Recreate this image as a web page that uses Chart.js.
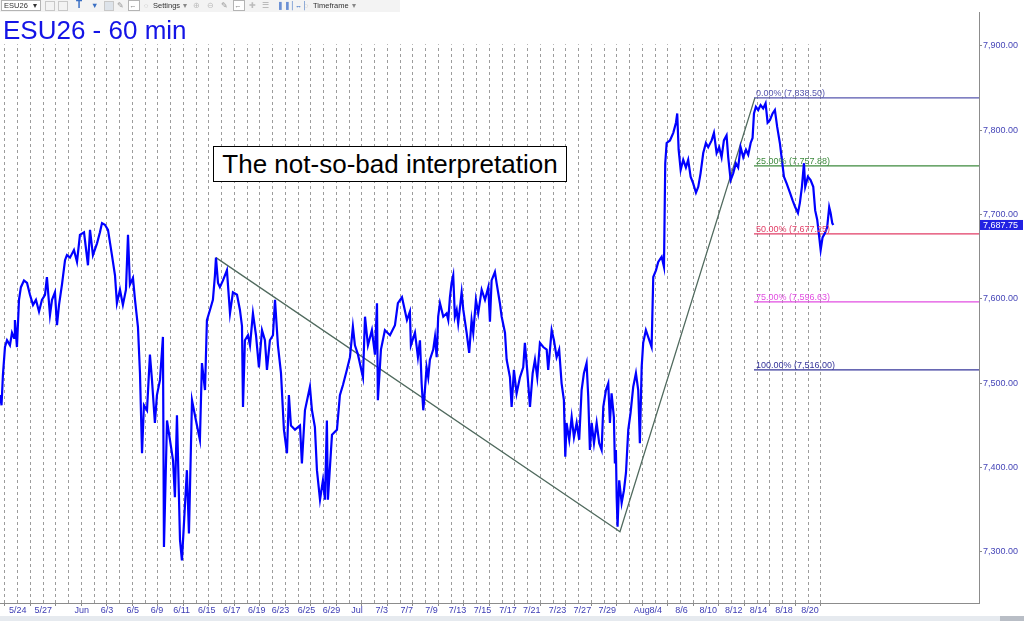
<!DOCTYPE html>
<html>
<head>
<meta charset="utf-8">
<title>ESU26 - 60 min</title>
<script src="https://cdn.jsdelivr.net/npm/chart.js@4.4.1/dist/chart.umd.min.js"></script>
<style>
  html, body { margin: 0; padding: 0; background: #fff; }
  #wrap { position: relative; width: 1024px; height: 621px; overflow: hidden; font-family: 'Liberation Sans', Arial, sans-serif; }
  #chart { position: absolute; left: 0; top: 0; }
  #toolbar { position: absolute; left: 0; top: 0; width: 400px; height: 12px; background: #f3f3f3; font-size: 7.5px; color: #333; }
  #toolbar span { position: absolute; top: 1px; line-height: 10px; white-space: nowrap; }
  #toolbar .box { border: 1px solid #b4b4b4; background: #fff; height: 9px; top: 0px; }
  #toolbar .ico { width: 8px; height: 8px; border: 1px solid #c8c8c8; top: 1px; }
  #title { position: absolute; left: 3px; top: 17px; font-size: 26px; line-height: 26px; color: #1414e6; white-space: nowrap; }
  #note { position: absolute; left: 213px; top: 146px; width: 352px; height: 34px; border: 1px solid #000; background: #fff;
          font-size: 26px; line-height: 34px; color: #000; text-align: center; white-space: nowrap; }
  #scroll { position: absolute; left: 0; top: 616px; width: 1024px; height: 5px; background: #e6eaef; }
  #scroll .thumb { position: absolute; right: 0; top: 0; width: 24px; height: 5px; background: #b9bec6; }
</style>
</head>
<body>
<div id="wrap">
  <canvas id="chart" width="1024" height="621"></canvas>
  <div id="toolbar">
    <span class="box" style="left:1px;width:38px;">&nbsp;ESU26<span style="left:31px;top:0;">&#9662;</span></span>
    <span class="ico" style="left:45px;"></span>
    <span class="ico" style="left:58px;"></span>
    <span style="left:76px;font-size:10px;font-weight:bold;color:#3a6fc4;top:0;">T</span>
    <span style="left:91px;color:#3a6fc4;">&#9660;</span>
    <span class="ico" style="left:104px;background:#dde3ea;"></span>
    <span style="left:117px;color:#999;">&#9998;</span>
    <span class="box" style="left:128px;width:10px;color:#888;">&larr;</span>
    <span style="left:144px;color:#aaa;">&#9676;</span>
    <span style="left:153px;">Settings</span>
    <span style="left:183px;color:#888;">&#9662;</span>
    <span style="left:193px;color:#bbb;">&#8853;</span>
    <span style="left:207px;color:#bbb;">&#8854;</span>
    <span style="left:221px;color:#999;">&#9998;</span>
    <span class="box" style="left:233px;width:10px;color:#888;">&larr;</span>
    <span style="left:249px;color:#bbb;">&#10010;</span>
    <span style="left:262px;color:#aaa;">&#9776;</span>
    <span style="left:277px;color:#6a8fd4;">&#10074;&#10074;</span>
    <span style="left:290px;color:#3a6fc4;">&#9474;&#8596;&#9474;</span>
    <span style="left:304px;color:#aaa;">&#9676;</span>
    <span style="left:313px;">Timeframe</span>
    <span style="left:352px;color:#888;">&#9662;</span>
  </div>
  <div id="title">ESU26 - 60 min</div>
  <div id="note">The not-so-bad interpretation</div>
  <div id="scroll"><div class="thumb"></div></div>
</div>
<script>
// hourly closes, x = session index (one dashed line per session)
const barTime = [
  -0.39, -0.27, -0.16, 0, 0.16, 0.39, 0.55, 0.71, 0.78, 0.94,
  1.10, 1.25, 1.49, 1.73, 1.96, 2.20, 2.43, 2.67, 2.90, 3.14,
  3.29, 3.53, 3.69, 3.92, 4.08, 4.24, 4.47, 4.71, 4.86, 5.10,
  5.41, 5.65, 5.88, 6.20, 6.51, 6.67, 6.90, 7.22, 7.45, 7.61,
  7.84, 8.08, 8.39, 8.63, 8.78, 9.02, 9.25, 9.49, 9.65, 9.80,
  10.04, 10.20, 10.43, 10.59, 10.75, 10.90, 11.14, 11.37, 11.53, 11.76,
  11.92, 12.16, 12.39, 12.47, 12.71, 12.94, 13.18, 13.33, 13.49, 13.73,
  13.88, 14.12, 14.27, 14.43, 14.67, 14.98, 15.29, 15.45, 15.69, 15.84,
  16.08, 16.31, 16.47, 16.55, 16.71, 16.86, 17.10, 17.41, 17.65, 17.88,
  18.20, 18.43, 18.59, 18.67, 18.82, 19.06, 19.22, 19.45, 19.69, 19.92,
  20.16, 20.39, 20.55, 20.78, 21.02, 21.18, 21.41, 21.65, 21.88, 22.12,
  22.27, 22.43, 22.75, 23.14, 23.29, 23.53, 23.92, 24.08, 24.31, 24.47,
  24.71, 24.94, 25.10, 25.25, 25.33, 25.65, 26.04, 26.27, 26.51, 26.82,
  27.06, 27.29, 27.45, 27.69, 28.08, 28.24, 28.47, 28.78, 29.02, 29.18,
  29.25, 29.49, 29.80, 30.20, 30.59, 30.82, 31.14, 31.53, 31.76, 31.84,
  32.16, 32.39, 32.55, 32.68, 32.81, 32.94, 33.07, 33.20, 33.33, 33.59,
  33.73, 33.86, 33.98, 34.12, 34.38, 34.64, 34.77, 34.90, 35.03, 35.16,
  35.29, 35.43, 35.55, 35.82, 35.95, 36.21, 36.41, 36.60, 36.73, 36.94,
  37.12, 37.39, 37.65, 37.91, 38.04, 38.17, 38.43, 38.56, 38.82, 38.96,
  39.22, 39.35, 39.61, 39.74, 39.92, 40.13, 40.39, 40.65, 40.78, 40.96,
  41.18, 41.39, 41.57, 41.75, 41.96, 42.22, 42.49, 42.61, 42.88, 43.06,
  43.27, 43.47, 43.66, 43.84, 43.95, 44.05, 44.26, 44.45, 44.63, 44.84,
  45.04, 45.23, 45.41, 45.62, 45.75, 45.88, 46.02, 46.20, 46.41, 46.61,
  46.80, 46.93, 47.14, 47.32, 47.45, 47.58, 47.76, 47.84, 47.92, 47.98,
  48.05, 48.18, 48.37, 48.55, 48.71, 48.89, 49.07, 49.28, 49.49, 49.67,
  49.80, 49.94, 50.06, 50.27, 50.45, 50.72, 50.85, 51.06, 51.24, 51.51,
  51.69, 51.79, 51.90, 52.16, 52.42, 52.63, 52.73, 52.84, 53.00, 53.20,
  53.41, 53.59, 53.78, 53.98, 54.20, 54.38, 54.56, 54.77, 54.98, 55.16,
  55.43, 55.61, 55.82, 56.02, 56.21, 56.39, 56.60, 56.73, 56.92, 57.12,
  57.33, 57.51, 57.70, 57.91, 58.12, 58.30, 58.49, 58.64, 58.75, 58.90,
  59.08, 59.27, 59.47, 59.66, 59.82, 60.00, 60.21, 60.39, 60.57, 60.78,
  60.94, 61.10, 61.31, 61.57, 61.78, 61.98, 62.20, 62.35, 62.51, 62.67,
  62.77, 62.98, 63.19, 63.40, 63.55, 63.71, 63.87, 63.98, 64.13, 64.31,
  64.49, 64.65, 64.76, 64.89, 64.97
];
const barPrice = [
  7486, 7474, 7510, 7543, 7551, 7545, 7560, 7554, 7575, 7543,
  7599, 7614, 7622, 7619, 7605, 7593, 7599, 7585, 7599, 7605,
  7626, 7581, 7599, 7608, 7569, 7593, 7617, 7646, 7652, 7649,
  7658, 7644, 7676, 7679, 7640, 7682, 7652, 7666, 7679, 7690,
  7688, 7682, 7652, 7628, 7595, 7611, 7593, 7611, 7676, 7617,
  7625, 7599, 7567, 7512, 7417, 7474, 7468, 7534, 7504, 7453,
  7486, 7504, 7555, 7306, 7456, 7433, 7409, 7365, 7462, 7314,
  7290, 7356, 7397, 7322, 7480, 7456, 7433, 7524, 7492, 7575,
  7587, 7599, 7628, 7649, 7619, 7614, 7622, 7634, 7583, 7608,
  7605, 7587, 7568, 7472, 7551, 7557, 7545, 7583, 7557, 7519,
  7563, 7551, 7516, 7551, 7557, 7599, 7545, 7512, 7445, 7417,
  7486, 7450, 7445, 7450, 7405, 7468, 7496, 7468, 7448, 7397,
  7362, 7385, 7362, 7456, 7362, 7439, 7445, 7486, 7498, 7516,
  7531, 7567, 7545, 7534, 7507, 7579, 7545, 7563, 7534, 7595,
  7480, 7540, 7563, 7557, 7569, 7595, 7602, 7575, 7585, 7545,
  7560, 7531, 7551, 7500, 7468, 7492, 7519, 7507, 7528, 7540,
  7555, 7531, 7579, 7595, 7579, 7583, 7575, 7602, 7619, 7628,
  7579, 7587, 7571, 7608, 7587, 7560, 7536, 7575, 7560, 7599,
  7583, 7611, 7599, 7614, 7573, 7622, 7632, 7619, 7595, 7579,
  7560, 7528, 7507, 7472, 7516, 7488, 7507, 7519, 7548, 7516,
  7472, 7512, 7528, 7507, 7548, 7543, 7540, 7516, 7563, 7551,
  7531, 7540, 7500, 7480, 7413, 7453, 7433, 7460, 7436, 7453,
  7433, 7492, 7512, 7524, 7484, 7421, 7453, 7429, 7453, 7429,
  7421, 7472, 7492, 7500, 7453, 7488, 7460, 7405, 7421, 7365,
  7330, 7385, 7358, 7373, 7394, 7445, 7465, 7496, 7512, 7492,
  7429, 7519, 7548, 7563, 7555, 7543, 7626, 7634, 7644, 7650,
  7638, 7761, 7785, 7788, 7797, 7809, 7820, 7777, 7753, 7765,
  7756, 7765, 7745, 7737, 7726, 7733, 7749, 7773, 7785, 7780,
  7788, 7797, 7773, 7780, 7768, 7788, 7794, 7768, 7741, 7749,
  7761, 7756, 7780, 7768, 7777, 7771, 7785, 7791, 7820, 7828,
  7824, 7830, 7826, 7832, 7809, 7812, 7820, 7824, 7804, 7785,
  7765, 7745, 7737, 7726, 7717, 7709, 7702, 7714, 7733, 7761,
  7733, 7745, 7741, 7733, 7705, 7694, 7673, 7658, 7673, 7678,
  7685, 7709, 7702, 7690, 7687.75
];

// date labels under the time axis and where they sit (session index)
const dateLabels = ['5/24', '5/27', 'Jun', '6/3', '6/5', '6/9', '6/11', '6/15', '6/17', '6/19', '6/23',
  '6/25', '6/29', 'Jul', '7/3', '7/7', '7/9', '7/13', '7/15', '7/17', '7/21', '7/23', '7/27', '7/29',
  'Aug', '8/4', '8/6', '8/10', '8/12', '8/14', '8/18', '8/20'];
const datePos = [1.00, 3.00, 6.02, 8.00, 10.02, 11.92, 13.86, 15.82, 17.78, 19.74, 21.62,
  23.66, 25.62, 27.61, 29.55, 31.51, 33.46, 35.49, 37.45, 39.45, 41.31, 43.33, 45.29, 47.25,
  49.94, 51.04, 53.07, 55.16, 57.16, 59.11, 61.11, 63.14];
const sessionCount = 65;

const priceTicks = [7300, 7400, 7500, 7600, 7700, 7800, 7900];

// hand-drawn swing line: 6/15 high -> 7/29 low -> 8/14 high
const swingTime = [16.55, 48.24, 58.82];
const swingPrice = [7649, 7324, 7838.5];

// retracement levels, drawn from the 8/14 high to the right edge
const fibPct = [0, 25, 50, 75, 100];
const fibLevel = [7838.50, 7757.88, 7677.25, 7596.63, 7516.00];
const fibColor = ['#5656ae', '#3d8a3d', '#e23d66', '#e24ee2', '#34349a'];
const fibStart = 58.75;

const lastPrice = 7687.75;
const gridTopPrice = 7902;   // session lines start just under the title
const xMin = -0.39, xMax = 76.4;
const yMin = 7239.5, yMax = 7940.3;

const fmt2 = v => v.toLocaleString('en-US', { minimumFractionDigits: 2, maximumFractionDigits: 2 });

const datasets = [
  {
    label: 'ESU26',
    data: barTime.map((t, i) => ({ x: t, y: barPrice[i] })),
    borderColor: '#0000ff',
    borderWidth: 2.2,
    pointRadius: 0,
    tension: 0
  },
  {
    label: 'swing',
    data: swingTime.map((t, i) => ({ x: t, y: swingPrice[i] })),
    borderColor: '#506a5e',
    borderWidth: 1.3,
    pointRadius: 0
  }
];
fibLevel.forEach((lv, i) => {
  datasets.push({
    label: 'fib ' + fibPct[i],
    data: [{ x: fibStart, y: lv }, { x: xMax, y: lv }],
    borderColor: fibColor[i],
    borderWidth: 1.2,
    pointRadius: 0
  });
});

const overlays = {
  id: 'overlays',
  beforeDatasetsDraw(chart) {
    // blank band behind the title, session lines begin below it
    const { ctx, chartArea } = chart;
    const yTop = chart.scales.y.getPixelForValue(gridTopPrice);
    ctx.save();
    ctx.fillStyle = '#ffffff';
    ctx.fillRect(chartArea.left, chartArea.top, chartArea.right - chartArea.left - 1, yTop - chartArea.top);
    ctx.restore();
  },
  afterDatasetsDraw(chart) {
    const { ctx } = chart;
    const xs = chart.scales.x, ys = chart.scales.y;
    ctx.save();
    ctx.font = '9px "Liberation Sans", Arial, sans-serif';
    ctx.textBaseline = 'alphabetic';
    ctx.textAlign = 'left';
    fibLevel.forEach((lv, i) => {
      ctx.fillStyle = fibColor[i];
      ctx.fillText(fibPct[i].toFixed(2) + '% (' + fmt2(lv) + ')', xs.getPixelForValue(fibStart) + 2, ys.getPixelForValue(lv) - 2);
    });
    ctx.restore();
  },
  afterDraw(chart) {
    // last price flag on the price axis
    const { ctx, chartArea } = chart;
    const y = chart.scales.y.getPixelForValue(lastPrice);
    ctx.save();
    ctx.fillStyle = '#2222e2';
    ctx.fillRect(chartArea.right + 1, y - 5, 43, 10);
    ctx.fillStyle = '#ffffff';
    ctx.font = '9px "Liberation Sans", Arial, sans-serif';
    ctx.textBaseline = 'middle';
    ctx.fillText(fmt2(lastPrice), chartArea.right + 4, y + 0.5);
    ctx.restore();
  }
};

new Chart(document.getElementById('chart'), {
  type: 'line',
  data: { datasets },
  options: {
    responsive: false,
    animation: false,
    devicePixelRatio: 1,
    layout: { padding: { left: 0, right: 0, top: 12, bottom: 0 } },
    plugins: { legend: { display: false }, tooltip: { enabled: false } },
    scales: {
      x: {
        type: 'linear', position: 'bottom', min: xMin, max: xMax,
        afterBuildTicks: s => { s.ticks = Array.from({ length: sessionCount }, (_, i) => ({ value: i })); },
        afterFit: s => { s.height = 0; },
        ticks: { display: false },
        grid: {
          color: '#9c9c9c', lineWidth: 1, tickLength: 3, tickWidth: 1, tickBorderDash: [],
          tickColor: c => (c.tick && c.tick.value % 2 === 0) ? '#8a8a8a' : 'rgba(0,0,0,0)'
        },
        border: { display: true, color: '#8c8c8c', width: 1, dash: [3, 3] }
      },
      xl: {
        type: 'linear', position: 'bottom', min: xMin, max: xMax,
        afterBuildTicks: s => { s.ticks = datePos.map(v => ({ value: v })); },
        afterFit: s => { s.height = 18; },
        grid: { display: false, drawTicks: false },
        border: { display: false },
        ticks: {
          autoSkip: false, maxRotation: 0, padding: 2,
          color: '#3c3cb4',
          font: { size: 9, family: '"Liberation Sans", Arial, sans-serif' },
          callback: (v, i) => dateLabels[i]
        }
      },
      y: {
        position: 'right', min: yMin, max: yMax,
        afterBuildTicks: s => { s.ticks = priceTicks.map(v => ({ value: v })); },
        afterFit: s => { s.width = 45; },
        grid: { drawOnChartArea: false, drawTicks: true, tickLength: 3, tickColor: '#8a8a8a' },
        border: { display: true, color: '#8c8c8c', width: 1 },
        ticks: {
          padding: 1, color: '#4646b8',
          font: { size: 9, family: '"Liberation Sans", Arial, sans-serif' },
          callback: v => fmt2(v)
        }
      }
    }
  },
  plugins: [overlays]
});
</script>
</body>
</html>
